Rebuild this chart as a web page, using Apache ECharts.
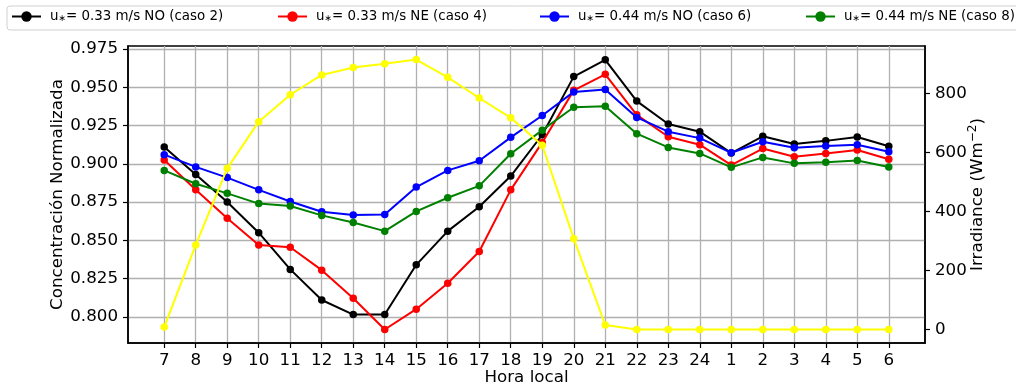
<!DOCTYPE html>
<html>
<head>
<meta charset="utf-8">
<script src="https://cdn.jsdelivr.net/npm/echarts@6/dist/echarts.min.js"></script>
<style>
  html, body { margin: 0; padding: 0; background: #ffffff; }
  #chart { width: 1016px; height: 390px; }
</style>
</head>
<body>
<div id="chart"></div>
<script>
// Hora local (eje X)
const horas = ['7','8','9','10','11','12','13','14','15','16','17','18','19','20','21','22','23','24','1','2','3','4','5','6'];

// Concentración normalizada por caso
const caso2 = [0.911, 0.893, 0.875, 0.855, 0.831, 0.811, 0.8015, 0.8015, 0.834, 0.856, 0.872, 0.892, 0.919, 0.957, 0.968, 0.941, 0.926, 0.921, 0.907, 0.918, 0.913, 0.915, 0.9175, 0.9115];
const caso4 = [0.9025, 0.883, 0.8645, 0.847, 0.8455, 0.8305, 0.8122, 0.7917, 0.805, 0.822, 0.8427, 0.883, 0.914, 0.948, 0.9585, 0.932, 0.9177, 0.9125, 0.8992, 0.910, 0.9046, 0.9068, 0.909, 0.903];
const caso6 = [0.906, 0.898, 0.891, 0.883, 0.8754, 0.8687, 0.8665, 0.8669, 0.8848, 0.8957, 0.902, 0.9173, 0.9316, 0.947, 0.9486, 0.9303, 0.921, 0.9168, 0.9072, 0.9144, 0.9105, 0.9116, 0.9125, 0.9079];
const caso8 = [0.8957, 0.887, 0.8807, 0.874, 0.8724, 0.8663, 0.8617, 0.856, 0.8689, 0.8778, 0.8856, 0.9066, 0.922, 0.937, 0.9377, 0.9197, 0.9107, 0.9068, 0.8977, 0.9042, 0.9003, 0.9011, 0.9022, 0.8979];

// Irradiancia (W m^-2)
const irradiancia = [9, 287, 546, 704, 795, 862, 887, 900, 914, 854, 784, 717, 624, 308, 16, 1, 1, 1, 1, 1, 1, 1, 1, 1];

// Etiquetas de los ejes
const ticksConc = [0.800, 0.825, 0.850, 0.875, 0.900, 0.925, 0.950, 0.975];
const ticksIrr = [0, 200, 400, 600, 800];

const nombres = [
  'u∗= 0.33 m/s NO (caso 2)',
  'u∗= 0.33 m/s NE (caso 4)',
  'u∗= 0.44 m/s NO (caso 6)',
  'u∗= 0.44 m/s NE (caso 8)'
];
const colores = ['#000000', '#ff0000', '#0000ff', '#008000'];
const casos = [caso2, caso4, caso6, caso8];

const FONT = 'DejaVu Sans';
const idx = horas.map((h, i) => i);
const pares = arr => arr.map((v, i) => [i, v]);

const series = casos.map((arr, k) => ({
  name: nombres[k],
  type: 'line',
  xAxisIndex: 0,
  yAxisIndex: 0,
  data: pares(arr),
  symbol: 'circle',
  symbolSize: 7.5,
  showSymbol: true,
  color: colores[k],
  lineStyle: { color: colores[k], width: 2 },
  itemStyle: { color: colores[k] },
  emphasis: { disabled: true },
  z: 3 + k
}));

series.push({
  name: 'Irradiancia',
  type: 'line',
  xAxisIndex: 0,
  yAxisIndex: 1,
  data: pares(irradiancia),
  symbol: 'circle',
  symbolSize: 7.5,
  color: '#ffff00',
  lineStyle: { color: '#ffff00', width: 2 },
  itemStyle: { color: '#ffff00' },
  emphasis: { disabled: true },
  z: 10
});

const legendLefts = [11, 277, 539, 805];
const legends = nombres.map((n, k) => ({
  data: [n],
  left: legendLefts[k],
  top: 10,
  padding: 0,
  itemWidth: 29,
  itemHeight: 13,
  selectedMode: false,
  lineStyle: { width: 2 },
  formatter: name => '{u|u}{s|∗}{t|' + name.slice(2) + '}',
  textStyle: {
    fontFamily: FONT,
    color: '#000',
    rich: {
      u: { fontFamily: FONT, fontSize: 13.4, color: '#000', padding: [0, 0, 0, 4] },
      s: { fontFamily: FONT, fontSize: 9, color: '#000', padding: [4, 0, 0, 0] },
      t: { fontFamily: FONT, fontSize: 13.4, color: '#000' }
    }
  }
}));

const chart = echarts.init(document.getElementById('chart'), null, { renderer: 'canvas' });

chart.setOption({
  animation: false,
  backgroundColor: '#ffffff',
  textStyle: { fontFamily: FONT },
  graphic: [{
    type: 'rect',
    shape: { x: 7, y: 6, width: 1100, height: 24, r: 3 },
    style: { fill: 'transparent', stroke: '#d0d0d0', lineWidth: 1 },
    z: 0
  }],
  legend: legends,
  grid: {
    left: 128, right: 91, top: 46, bottom: 47,
    outerBoundsMode: 'none',
    containLabel: false,
    show: true,
    borderColor: '#000',
    borderWidth: 1.5,
    backgroundColor: 'transparent'
  },
  xAxis: {
    type: 'value',
    min: -1.15,
    max: 24.15,
    name: 'Hora local',
    nameLocation: 'middle',
    nameGap: 26,
    nameMoveOverlap: false,
    nameTextStyle: { fontFamily: FONT, fontSize: 16.7, color: '#000' },
    axisLine: { show: true, onZero: false, lineStyle: { color: '#000', width: 1.5 } },
    axisTick: { show: true, customValues: idx, inside: false, length: 5, lineStyle: { color: '#000', width: 1.2 } },
    axisLabel: {
      customValues: idx,
      formatter: v => horas[Math.round(v)],
      margin: 9,
      fontFamily: FONT, fontSize: 16.7, color: '#000'
    },
    splitLine: { show: true, lineStyle: { color: '#b0b0b0', width: 1.3 } }
  },
  yAxis: [{
    type: 'value',
    position: 'left',
    min: 0.7829,
    max: 0.977,
    name: 'Concentración Normalizada',
    nameLocation: 'middle',
    nameGap: 62,
    nameMoveOverlap: false,
    nameTextStyle: { fontFamily: FONT, fontSize: 16.7, color: '#000' },
    axisLine: { show: true, onZero: false, lineStyle: { color: '#000', width: 1.5 } },
    axisTick: { show: true, customValues: ticksConc, length: 5, lineStyle: { color: '#000', width: 1.2 } },
    axisLabel: {
      customValues: ticksConc,
      formatter: v => v.toFixed(3),
      margin: 10,
      fontFamily: FONT, fontSize: 16.7, color: '#000'
    },
    splitLine: { show: true, lineStyle: { color: '#b0b0b0', width: 1.3 } }
  }, {
    type: 'value',
    position: 'right',
    min: -45,
    max: 960,
    name: '{a|Irradiance (Wm}{s|−2}{a|)}',
    nameLocation: 'middle',
    nameGap: 42,
    nameMoveOverlap: false,
    nameTextStyle: {
      fontFamily: FONT, fontSize: 16.7, color: '#000',
      rich: {
        a: { fontFamily: FONT, fontSize: 16.7, color: '#000' },
        s: { fontFamily: FONT, fontSize: 12, color: '#000', padding: [0, 0, 9, 0] }
      }
    },
    axisLine: { show: true, onZero: false, lineStyle: { color: '#000', width: 1.5 } },
    axisTick: { show: true, customValues: ticksIrr, length: 5, lineStyle: { color: '#000', width: 1.2 } },
    axisLabel: {
      customValues: ticksIrr,
      formatter: v => String(v),
      margin: 10,
      fontFamily: FONT, fontSize: 16.7, color: '#000'
    },
    splitLine: { show: false }
  }],
  series: series
});
</script>
</body>
</html>
